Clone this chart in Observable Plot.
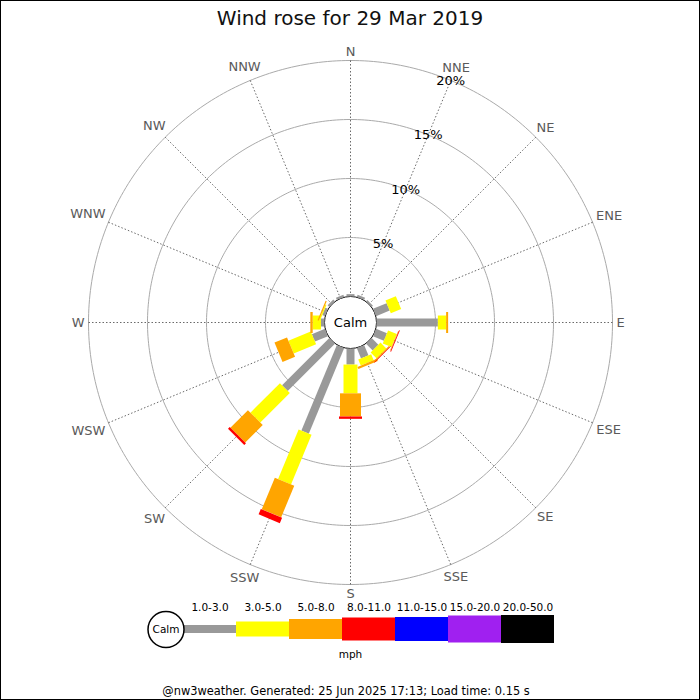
<!DOCTYPE html>
<html>
<head>
<meta charset="utf-8">
<script src="https://cdn.jsdelivr.net/npm/d3@7"></script>
<script src="https://cdn.jsdelivr.net/npm/@observablehq/plot@0.6"></script>
<style>
  body { margin: 0; background: #fff; font-family: "DejaVu Sans", sans-serif; }
  #wrap { position: relative; width: 700px; height: 700px; overflow: hidden; background: #fff; }
  #frame { position: absolute; left: 0; top: 0; width: 700px; height: 700px; box-sizing: border-box; border: 1px solid #000; pointer-events: none; }
  #title { position: absolute; left: 0; top: 8px; width: 700px; text-align: center; font-size: 20px; line-height: 20px; color: #111; }
  #main { position: absolute; left: 0; top: 35px; }
  #legend { position: absolute; left: 0; top: 598px; }
  #footer { position: absolute; left: -4px; top: 685px; width: 700px; text-align: center; font-size: 11.4px; line-height: 13px; color: #000; }
</style>
</head>
<body>
<div id="wrap">
  <div id="title">Wind rose for 29 Mar 2019</div>
  <div id="main"></div>
  <div id="legend"></div>
  <div id="footer">@nw3weather. Generated: 25 Jun 2025 17:13; Load time: 0.15 s</div>
  <div id="frame"></div>
</div>
<script>
// ---------------- data ----------------
const directions = ["N","NNE","NE","ENE","E","ESE","SE","SSE","S","SSW","SW","WSW","W","WNW","NW","NNW"];
const speedBins = ["1.0-3.0","3.0-5.0","5.0-8.0","8.0-11.0","11.0-15.0","15.0-20.0","20.0-50.0"];
const speedUnit = "mph";
// percentage of time per direction, for each speed bin (mph)
const pct_1_3   = [0.2, 0.2, 0.15, 1.25, 5.2, 1.0, 0.8, 0.95, 1.36, 7.85, 5.66, 1.2, 0.3, 0.25, 0.2, 0.2];
const pct_3_5   = [0, 0, 0, 0.95, 0.7, 0.8, 0.7, 0.55, 2.44, 4.55, 3.54, 2.05, 0.7, 0.1, 0, 0];
const pct_5_8   = [0, 0, 0, 0, 0.17, 0.05, 0.1, 0.2, 1.96, 2.9, 2.1, 1.15, 0.2, 0.1, 0, 0];
const pct_8_11  = [0, 0, 0, 0, 0, 0.07, 0.05, 0, 0.2, 0.5, 0.2, 0, 0, 0, 0, 0];
const pct_11_15 = [0, 0, 0, 0, 0, 0, 0, 0, 0, 0, 0, 0, 0, 0, 0, 0];
const pct_15_20 = [0, 0, 0, 0, 0, 0, 0, 0, 0, 0, 0, 0, 0, 0, 0, 0];
const pct_20_50 = [0, 0, 0, 0, 0, 0, 0, 0, 0, 0, 0, 0, 0, 0, 0, 0];
const ringTicks = [5, 10, 15, 20];

// ---------------- styles ----------------
const binColors = ["#999999","#ffff00","#ffa500","#ff0000","#0000ff","#a020f0","#000000"];
const chartWidths = [8, 14, 21, 23, 24, 27, 28];
const legendHeights = [8, 15, 20, 23, 24, 27, 28];
const FONT = "DejaVu Sans";

// ---------------- geometry helpers ----------------
const K = 11.8;            // px per percent
const calmPx = 26;         // calm circle radius px
const calmR = calmPx / K;  // in percent units
const W = 700, H = 575, CY = 287;
const rad = a => a * Math.PI / 180;
const angleOf = i => i * 360 / directions.length;
const px = (p, a) => (calmR + p) * Math.sin(rad(a));
const py = (p, a) => (calmR + p) * Math.cos(rad(a));

const series = [pct_1_3, pct_3_5, pct_5_8, pct_8_11, pct_11_15, pct_15_20, pct_20_50];
const segs = [];
directions.forEach((dir, i) => {
  let cum = 0;
  series.forEach((vals, b) => {
    const v = vals[i];
    if (v > 0) { segs.push({dir, bin: b, a: angleOf(i), p0: cum, p1: cum + v}); cum += v; }
  });
});

const maxRing = d3.max(ringTicks);
const ringPts = ringTicks.flatMap(p => d3.range(0, 361, 1).map(a => ({p, x: px(p, a), y: py(p, a)})));
const spokes = directions.map((d, i) => ({dir: d, a: angleOf(i)}));

// label placement: box just outside the outer ring
const ctx = document.createElement("canvas").getContext("2d");
ctx.font = `13px "${FONT}"`;
const labelBase = 266;
const labels = directions.map((d, i) => {
  const a = angleOf(i);
  const w = ctx.measureText(d).width;
  const r = labelBase + (w / 2) * Math.abs(Math.sin(rad(a))) + 5 * Math.abs(Math.cos(rad(a)));
  return {d, x: (r / K) * Math.sin(rad(a)), y: (r / K) * Math.cos(rad(a))};
});

const barMarks = speedBins.map((bin, b) => Plot.link(segs.filter(s => s.bin === b), {
  x1: s => px(s.p0, s.a), y1: s => py(s.p0, s.a),
  x2: s => px(s.p1, s.a), y2: s => py(s.p1, s.a),
  stroke: binColors[b], strokeWidth: chartWidths[b], strokeLinecap: "butt"
}));

const main = Plot.plot({
  width: W, height: H,
  marginLeft: 0, marginRight: 0, marginTop: 0, marginBottom: 0,
  style: {background: "transparent", fontFamily: FONT, overflow: "visible"},
  x: {domain: [-W / 2 / K, W / 2 / K], axis: null},
  y: {domain: [-(H - CY) / K, CY / K], axis: null},
  marks: [
    Plot.line(ringPts, {x: "x", y: "y", z: "p", stroke: "#aaaaaa", strokeWidth: 1}),
    Plot.link(spokes, {
      x1: s => px(0, s.a), y1: s => py(0, s.a),
      x2: s => px(maxRing, s.a), y2: s => py(maxRing, s.a),
      stroke: "#444", strokeWidth: 0.8, strokeDasharray: "1.5,2"
    }),
    Plot.dot([0], {x: () => 0, y: () => 0, r: calmPx, fill: "white", stroke: "black", strokeWidth: 1}),
    ...barMarks,
    Plot.text(["Calm"], {x: () => 0, y: () => 0, text: d => d, fontSize: 13, fill: "black"}),
    Plot.text(labels, {x: "x", y: "y", text: "d", fontSize: 13, fill: "#5a5a5a"}),
    Plot.text(ringTicks, {x: p => px(p, angleOf(1)), y: p => py(p, angleOf(1)), text: p => p + "%", fontSize: 13, fill: "black"})
  ]
});
document.getElementById("main").appendChild(main);

// ---------------- legend ----------------
const legendData = speedBins.map((bin, b) => ({bin, h: legendHeights[b], color: binColors[b]}));
const legend = Plot.plot({
  width: W, height: 70,
  marginLeft: 0, marginRight: 0, marginTop: 0, marginBottom: 0,
  style: {background: "transparent", fontFamily: FONT, overflow: "visible"},
  x: {type: "band", domain: speedBins, range: [180, 556], padding: 0, axis: null},
  y: {domain: [-39, 31], axis: null},
  color: {type: "identity"},
  marks: [
    Plot.barY(legendData, {x: "bin", y1: d => -d.h / 2, y2: d => d.h / 2, fill: "color", inset: 0}),
    Plot.text(legendData, {x: "bin", y: () => 22.3, text: "bin", fontSize: 10.5, fill: "black"}),
    Plot.dot([0], {x: () => speedBins[0], y: () => 0, dx: -44, r: 18, fill: "white", stroke: "black"}),
    Plot.text(["Calm"], {x: () => speedBins[0], y: () => 0, dx: -44, text: d => d, fontSize: 10.5, fill: "black"}),
    Plot.text([speedUnit], {y: () => -25, frameAnchor: "middle", text: d => d, fontSize: 10.5, fill: "black"})
  ]
});
document.getElementById("legend").appendChild(legend);
</script>
</body>
</html>
